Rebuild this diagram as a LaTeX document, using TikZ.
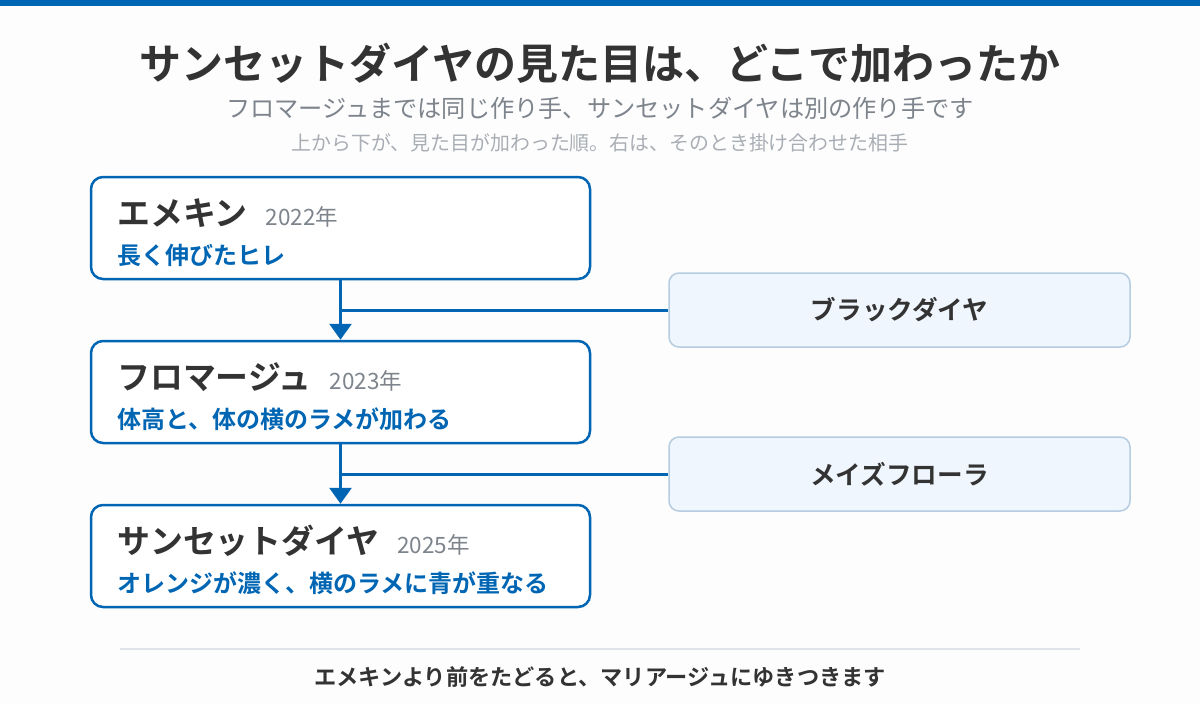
\documentclass[tikz,border=0pt]{standalone}
\usepackage{fontspec}
\setmainfont{Noto Sans CJK JP}[BoldFont={Noto Sans CJK JP Bold}]
\usetikzlibrary{arrows.meta}
\definecolor{mainblue}{HTML}{0066B3}
\definecolor{darktext}{HTML}{333333}
\definecolor{graytext}{HTML}{7E848C}
\definecolor{lightgray}{HTML}{A9AEB5}
\definecolor{sidefill}{HTML}{F0F6FD}
\definecolor{sideedge}{HTML}{B6CCE0}
\definecolor{rulecol}{HTML}{E1E5EA}
\definecolor{bgcol}{HTML}{FDFDFD}
\newcommand{\fs}[1]{\fontsize{#1}{#1}\selectfont}
\tikzset{
  mainbox/.style={draw=mainblue, line width=2.5pt, fill=white, rounded corners=12pt,
    minimum width=499pt, minimum height=102pt, inner sep=0pt},
  sidebox/.style={draw=sideedge, line width=1.5pt, fill=sidefill, rounded corners=10pt,
    minimum width=461pt, minimum height=74pt, inner sep=0pt,
    font=\fs{25.6}\bfseries, text=darktext},
  boxtitle/.style={anchor=base west, inner sep=0pt, font=\fs{32.9}\bfseries, text=darktext},
  boxsub/.style={anchor=west, inner sep=0pt, font=\fs{24}\bfseries, text=mainblue},
  flow/.style={draw=mainblue, line width=3pt},
  flowarrow/.style={flow, -{Triangle[width=22pt,length=16pt]}},
}
\newcommand{\yr}[1]{\hspace{18pt}{\fs{22.5}\mdseries\color{graytext}#1}}
\begin{document}
\begin{tikzpicture}[x=1pt,y=-1pt]
\useasboundingbox (0,0) rectangle (1200,704);
\fill[bgcol] (0,0) rectangle (1200,704);
\fill[mainblue] (0,0) rectangle (1200,6);

\node[inner sep=0pt, font=\fs{42}\bfseries, text=darktext] (title) at (600,63) {サンセットダイヤの見た目は、どこで加わったか};
\node[inner sep=0pt, font=\fs{24.2}, text=graytext] (sub1) at (600,108.5) {フロマージュまでは同じ作り手、サンセットダイヤは別の作り手です};
\node[inner sep=0pt, font=\fs{19.9}, text=lightgray] (sub2) at (600,142.5) {上から下が、見た目が加わった順。右は、そのとき掛け合わせた相手};

\node[mainbox] (b1) at (340.5,228) {};
\node[mainbox] (b2) at (340.5,392) {};
\node[mainbox] (b3) at (340.5,556) {};

\node[boxtitle] (t1) at (117,225) {エメキン\yr{2022年}};
\node[boxsub] (s1) at (117,255) {長く伸びたヒレ};
\node[boxtitle] (t2) at (117,389) {フロマージュ\yr{2023年}};
\node[boxsub] (s2) at (117,419) {体高と、体の横のラメが加わる};
\node[boxtitle] (t3) at (117,553) {サンセットダイヤ\yr{2025年}};
\node[boxsub] (s3) at (117,583) {オレンジが濃く、横のラメに青が重なる};

\node[sidebox] (p1) at (899.5,310) {ブラックダイヤ};
\node[sidebox] (p2) at (899.5,474) {メイズフローラ};

\coordinate (j1) at (b1.south |- p1.west);
\coordinate (j2) at (b2.south |- p2.west);

\draw[flowarrow] (b1.south) -- (b2.north);
\draw[flowarrow] (b2.south) -- (b3.north);
\draw[flow] (p1.west) -- (j1);
\draw[flow] (p2.west) -- (j2);

\coordinate (r1) at (120,649);
\coordinate (r2) at (1080,649);
\draw[rulecol, line width=2pt] (r1) -- (r2);
\node[inner sep=0pt, font=\fs{22.2}\bfseries, text=darktext] (foot) at (600,677) {エメキンより前をたどると、マリアージュにゆきつきます};
\end{tikzpicture}
\end{document}
